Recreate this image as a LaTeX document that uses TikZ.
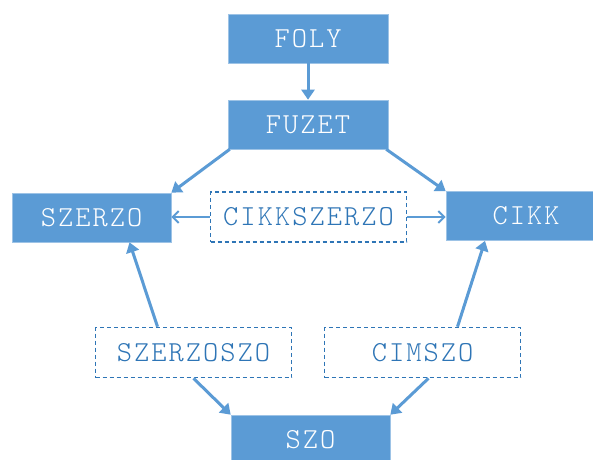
\documentclass[tikz,border=0pt]{standalone}
\usepackage{fontspec}
\newfontfamily\labelfont{Latin Modern Mono Light}[LetterSpace=7]
\usetikzlibrary{arrows.meta}
\definecolor{boxblue}{HTML}{5B9BD5}
\definecolor{lineblue}{HTML}{2E75B6}
\tikzset{
  entity/.style={fill=boxblue, draw=boxblue!60!white, line width=0.6pt, text=white,
    minimum width=160pt, minimum height=49pt, inner sep=0pt,
    font=\labelfont\fontsize{29}{33}\selectfont},
  relation/.style={draw=lineblue, dashed, dash pattern=on 4pt off 3pt, line width=1.6pt,
    text=lineblue, fill=white, minimum width=196pt, minimum height=50pt, inner sep=0pt,
    font=\labelfont\fontsize{29}{33}\selectfont},
  link/.style={draw=boxblue, line width=3pt, -{Triangle[length=10pt,width=13pt]}},
  openlink/.style={draw=boxblue, line width=2pt, -{Straight Barb[length=6pt,width=12pt,line width=2pt]}},
}
\begin{document}
\begin{tikzpicture}[x=1pt,y=-1pt]
  \useasboundingbox (0,0) rectangle (593,459);
  \fill[white] (0,0) rectangle (593,459);

  % entity boxes
  \node[entity] (foly)   at (308,38.5)  {FOLY};
  \node[entity] (fuzet)  at (308,124.5) {FUZET};
  \node[entity, minimum width=159pt] (szerzo) at (91.5,217.5) {SZERZO};
  \node[entity, minimum width=160pt] (cikk)   at (526,216)    {CIKK};
  \node[entity, minimum width=159pt] (szo)    at (310.5,439.5) {SZO};

  % relation boxes
  \node[relation] (cikkszerzo) at (308.5,217)   {CIKKSZERZO};
  \node[relation] (szerzoszo)  at (193.5,352.5) {SZERZOSZO};
  \node[relation] (cimszo)     at (422.5,352.5) {CIMSZO};

  % connectors
  \draw[link] (foly.south) -- (fuzet.north);
  \draw[link] ([xshift=2pt]fuzet.south west) -- (szerzo.north east);
  \draw[link] ([xshift=-2pt]fuzet.south east) -- (cikk.north west);
  \draw[openlink] (cikkszerzo.west) -- (cikkszerzo.west -| szerzo.east);
  \draw[openlink] (cikkszerzo.east) -- (cikkszerzo.east -| cikk.west);
  \draw[link] ([xshift=-36pt]szerzoszo.north) -- ([xshift=38pt]szerzo.south);
  \draw[link] ([xshift=35pt]cimszo.north) -- ([xshift=-41pt]cikk.south);
  \draw[link] (szerzoszo.south) -- (szo.north west);
  \draw[link] ([xshift=6pt]cimszo.south) -- (szo.north east);
\end{tikzpicture}
\end{document}
